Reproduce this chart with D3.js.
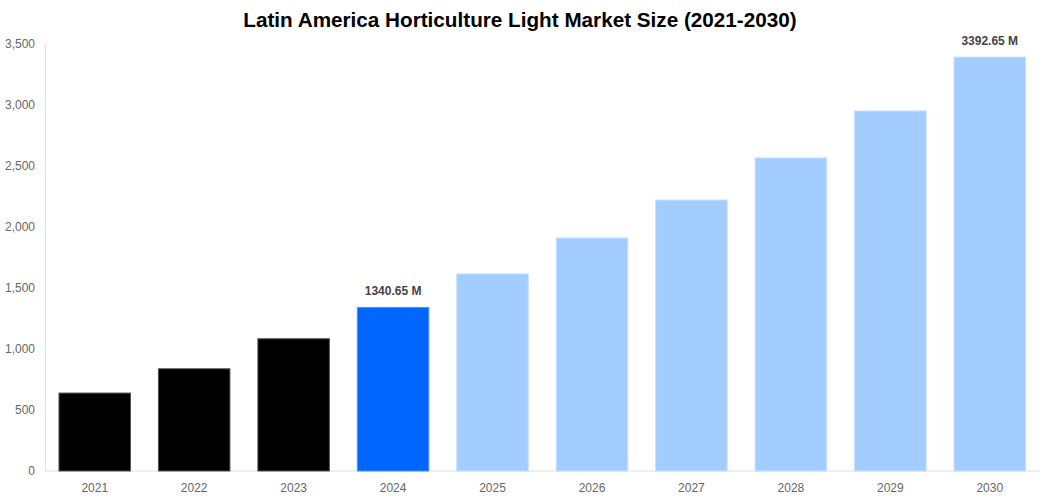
<!DOCTYPE html>
<html>
<head>
<meta charset="utf-8">
<script src="https://cdn.jsdelivr.net/npm/d3@7"></script>
<style>
  body { margin: 0; background: #fff; }
  svg text { font-family: "Liberation Sans", Arial, sans-serif; }
</style>
</head>
<body>
<svg id="chart"></svg>
<script>
// Data
const years = ["2021", "2022", "2023", "2024", "2025", "2026", "2027", "2028", "2029", "2030"];
const marketSize = [639, 838, 1084, 1340.65, 1615, 1910, 2221, 2566, 2951, 3392.65];
const barColors = ["#000000", "#000000", "#000000", "#0066ff", "#a3cdff", "#a3cdff", "#a3cdff", "#a3cdff", "#a3cdff", "#a3cdff"];
const barStrokes = ["#555555", "#555555", "#555555", "#4d94ff", "#c3dfff", "#c3dfff", "#c3dfff", "#c3dfff", "#c3dfff", "#c3dfff"];
const labelled = ["2024", "2030"];
const yTicks = [0, 500, 1000, 1500, 2000, 2500, 3000, 3500];

const width = 1040, height = 500;
const margin = { top: 44, right: 0, bottom: 29, left: 45 };

const svg = d3.select("#chart")
  .attr("width", width)
  .attr("height", height);

// Title
svg.append("text")
  .attr("x", 520)
  .attr("y", 27)
  .attr("text-anchor", "middle")
  .style("font-size", "20.7px")
  .style("font-weight", "bold")
  .style("fill", "#000")
  .text("Latin America Horticulture Light Market Size (2021-2030)");

// Scales
const x = d3.scaleBand()
  .domain(years)
  .range([margin.left, width - 0.5])
  .paddingInner(0.281)
  .paddingOuter(0.1405);

const y = d3.scaleLinear()
  .domain([0, 3500])
  .range([height - margin.bottom, margin.top]);

// Axes
const yAxis = svg.append("g")
  .attr("transform", `translate(${margin.left},0)`)
  .call(d3.axisLeft(y).tickValues(yTicks).tickSize(0).tickPadding(10).tickFormat(d3.format(",")));
yAxis.select(".domain").attr("stroke", "#e0e0e0");
yAxis.selectAll("text")
  .style("font-size", "12px")
  .style("fill", "#666");

const xAxis = svg.append("g")
  .attr("transform", `translate(0,${y(0)})`)
  .call(d3.axisBottom(x).tickSize(0).tickPadding(12));
xAxis.select(".domain").attr("stroke", "#e0e0e0").attr("d", `M${margin.left},0H${width}`);
xAxis.selectAll("text")
  .style("font-size", "12px")
  .style("fill", "#666");

// Bars
svg.append("g")
  .selectAll("rect")
  .data(years)
  .enter().append("rect")
  .attr("x", d => x(d))
  .attr("y", (d, i) => y(marketSize[i]))
  .attr("width", x.bandwidth())
  .attr("height", (d, i) => y(0) - y(marketSize[i]))
  .attr("fill", (d, i) => barColors[i])
  .attr("stroke", (d, i) => barStrokes[i])
  .attr("stroke-width", 1);

// Value labels
svg.append("g")
  .selectAll("text")
  .data(years.filter(d => labelled.includes(d)))
  .enter().append("text")
  .attr("x", d => x(d) + x.bandwidth() / 2)
  .attr("y", d => y(marketSize[years.indexOf(d)]) - 12)
  .attr("text-anchor", "middle")
  .style("font-size", "12px")
  .style("font-weight", "bold")
  .style("fill", "#444")
  .text(d => marketSize[years.indexOf(d)].toFixed(2) + " M");
</script>
</body>
</html>
